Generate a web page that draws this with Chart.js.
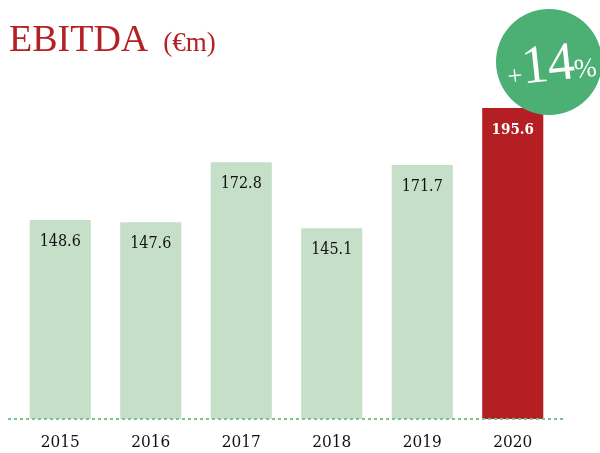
<!DOCTYPE html>
<html>
<head>
<meta charset="utf-8">
<script src="https://cdn.jsdelivr.net/npm/chart.js@4/dist/chart.umd.min.js"></script>
<style>
  html, body { margin: 0; padding: 0; background: #fff; }
  #wrap { position: relative; width: 600px; height: 453px; overflow: hidden; }
  #title { position: absolute; left: 9px; top: 16px; font-family: "Liberation Serif", serif; color: #b32127; font-size: 38px; white-space: nowrap; }
  #title small { font-size: 27px; margin-left: 15px; }
  #badge { position: absolute; left: 496px; top: 9px; width: 106px; height: 106px; border-radius: 50%; background: #4caf73; }
  #badge div { position: absolute; left: 10px; top: 22px; width: 100px; font-family: "Liberation Serif", serif; color: #fff; transform: rotate(-6deg); white-space: nowrap; }
  #badge .big { font-size: 54px; letter-spacing: -1px; }
  #badge .sm { font-size: 27px; }
</style>
</head>
<body>
<div id="wrap">
  <canvas id="ebitdaChart" width="600" height="453"></canvas>
  <div id="title">EBITDA<small>(€m)</small></div>
  <div id="badge"><div><span class="sm">+</span><span class="big">14</span><span class="sm">%</span></div></div>
</div>
<script>
const years = ['2015', '2016', '2017', '2018', '2019', '2020'];
const ebitda = [148.6, 147.6, 172.8, 145.1, 171.7, 195.6];
const barColors = ['#c5dfc8', '#c5dfc8', '#c5dfc8', '#c5dfc8', '#c5dfc8', '#b41f24'];
const labelColors = ['#111111', '#111111', '#111111', '#111111', '#111111', '#ffffff'];

const serif = '"DejaVu Serif Condensed", "DejaVu Serif", serif';

// value labels inside the top of each bar
const valueLabels = {
    id: 'valueLabels',
    afterDatasetsDraw(chart) {
        const ctx = chart.ctx;
        const meta = chart.getDatasetMeta(0);
        ctx.save();
        ctx.textAlign = 'center';
        ctx.textBaseline = 'middle';
        meta.data.forEach((bar, i) => {
            ctx.font = (i === 5 ? 'bold 15px ' : '16px ') + serif;
            ctx.fillStyle = labelColors[i];
            ctx.fillText(ebitda[i].toFixed(1), bar.x, bar.y + 22);
        });
        ctx.restore();
    }
};

// dashed baseline, a bit wider than the plot area
const dashedBase = {
    id: 'dashedBase',
    afterDatasetsDraw(chart) {
        const { ctx, chartArea } = chart;
        ctx.save();
        ctx.strokeStyle = '#7cc290';
        ctx.lineWidth = 2;
        ctx.setLineDash([3, 3]);
        ctx.beginPath();
        ctx.moveTo(chartArea.left - 7, chartArea.bottom);
        ctx.lineTo(chartArea.right + 8, chartArea.bottom);
        ctx.stroke();
        ctx.restore();
    }
};

new Chart(document.getElementById('ebitdaChart').getContext('2d'), {
    type: 'bar',
    data: {
        labels: years,
        datasets: [{
            data: ebitda,
            backgroundColor: barColors,
            barPercentage: 1,
            categoryPercentage: 0.675
        }]
    },
    options: {
        responsive: false,
        animation: false,
        layout: { padding: { left: 15, right: 42, top: 108, bottom: 0 } },
        plugins: { legend: { display: false }, tooltip: { enabled: false } },
        scales: {
            x: {
                grid: { display: false, drawTicks: false },
                border: { display: false },
                ticks: { color: '#111111', padding: 13, font: { family: serif, size: 17 } },
                afterFit: scale => { scale.height = 34; }
            },
            y: {
                display: false,
                min: 65,
                max: 195.6
            }
        }
    },
    plugins: [valueLabels, dashedBase]
});
</script>
</body>
</html>
